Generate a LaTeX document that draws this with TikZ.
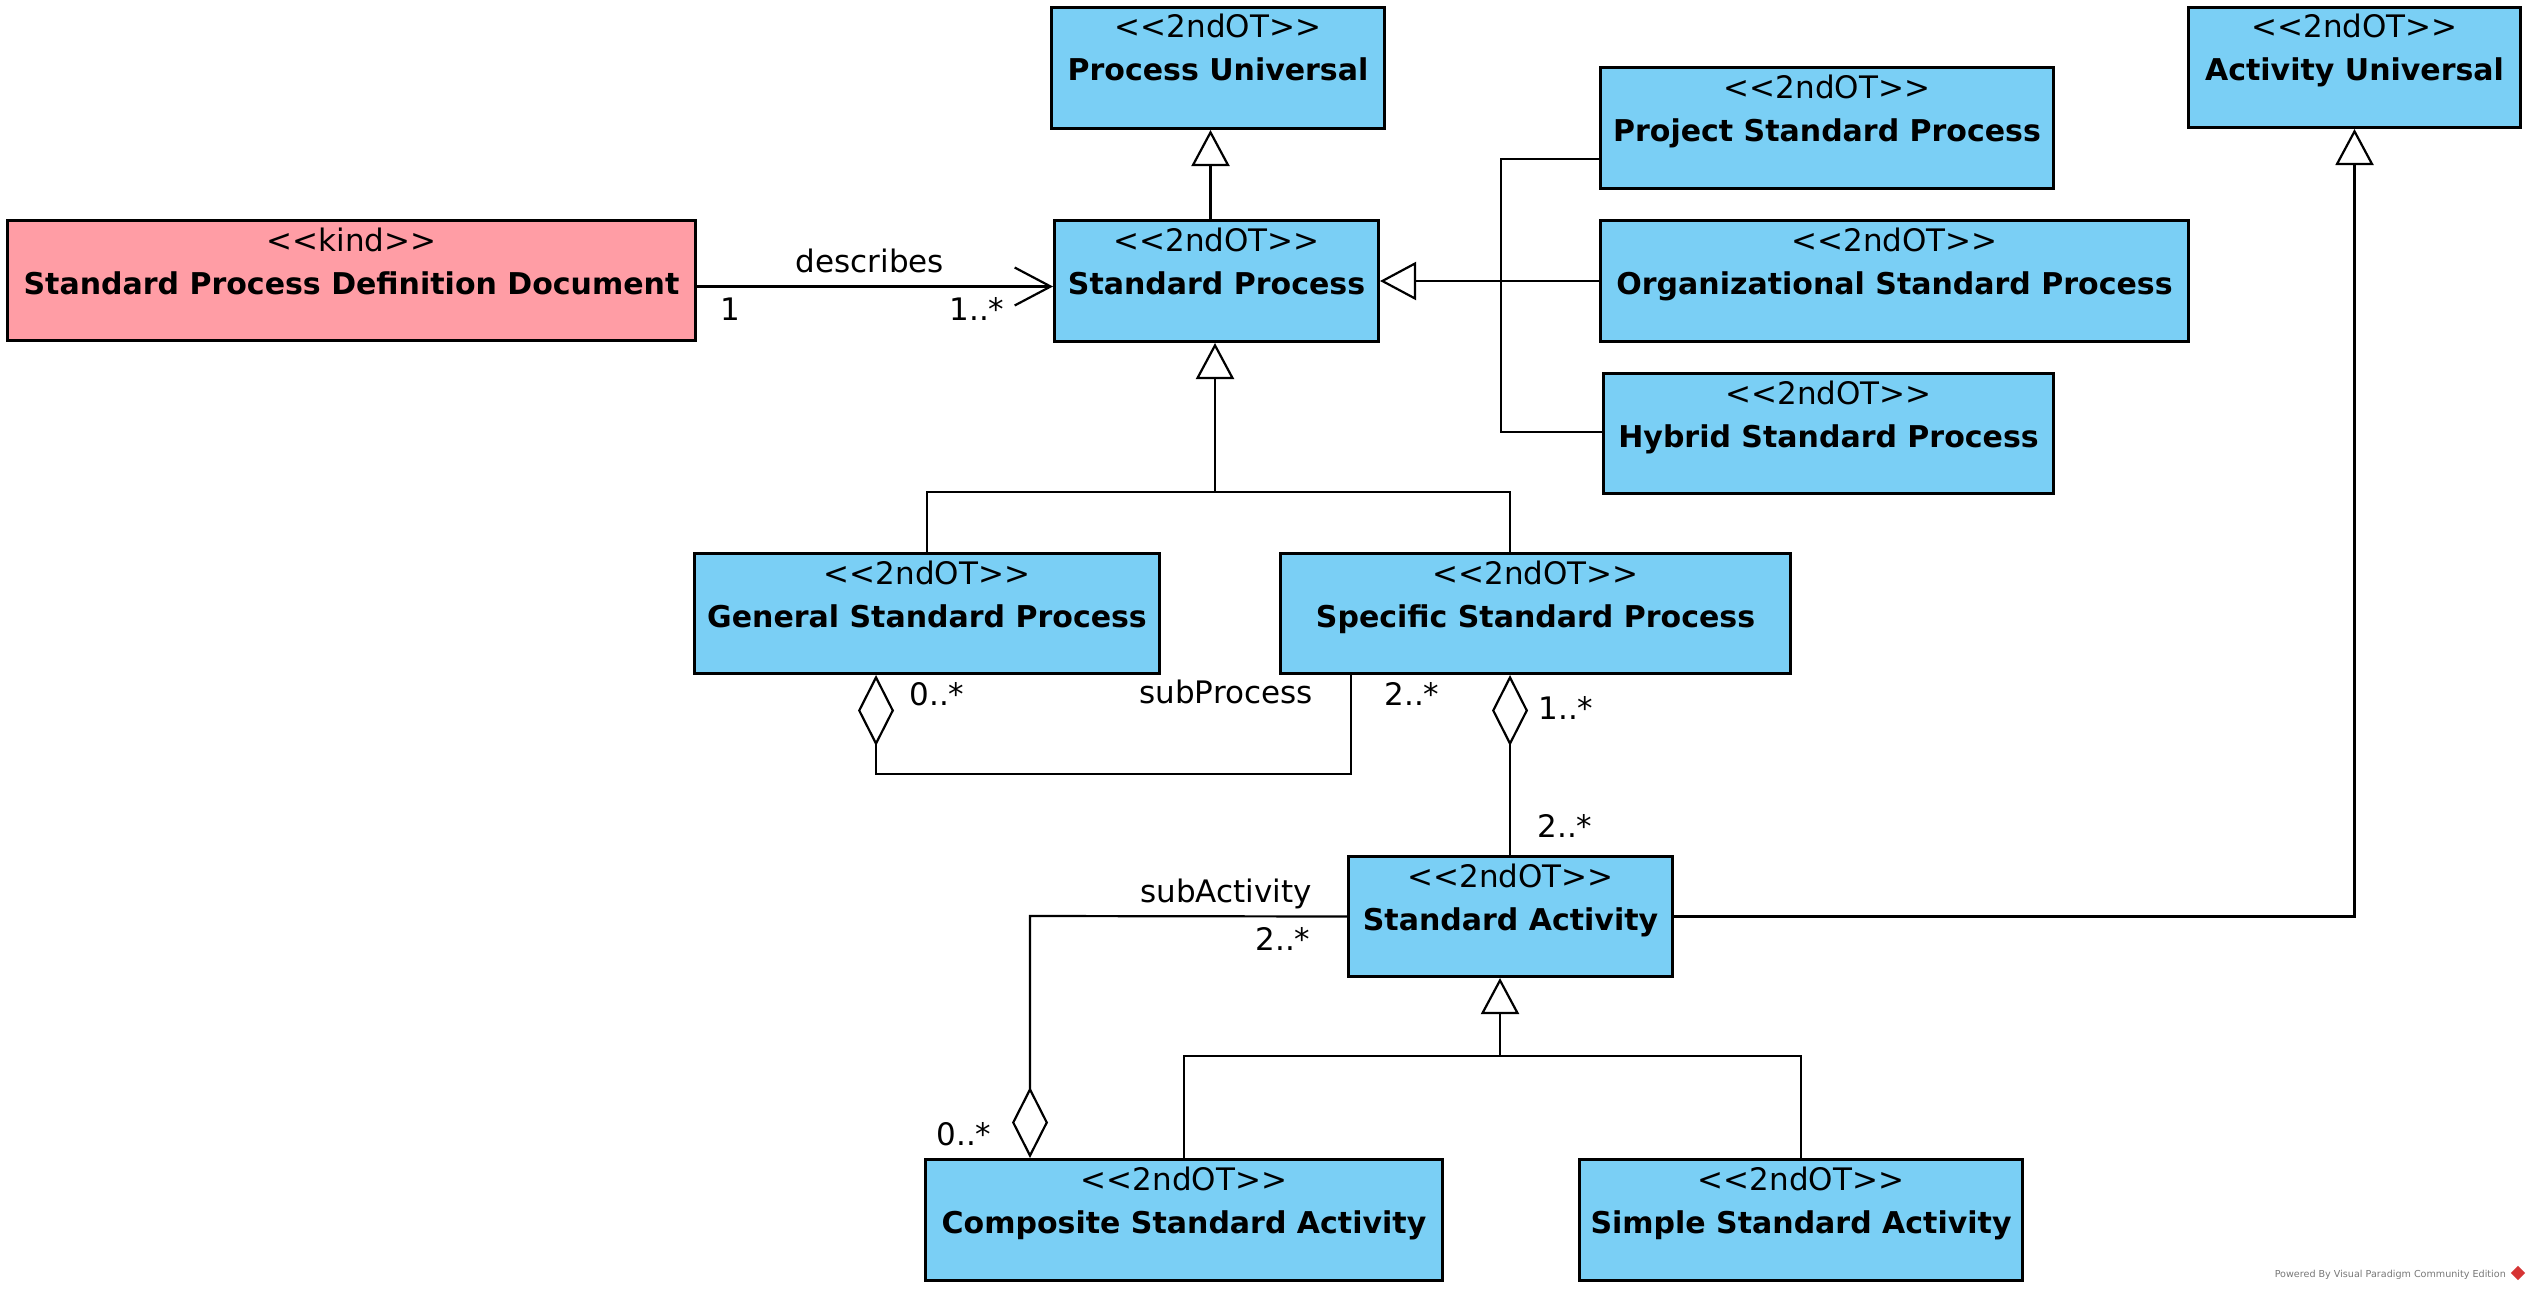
\documentclass[tikz,border=0pt]{standalone}
\usepackage{fontspec}
\setmainfont{DejaVu Sans}
\usetikzlibrary{arrows.meta,calc}
\definecolor{clsblue}{RGB}{122,207,245}
\definecolor{clspink}{RGB}{255,157,165}
\definecolor{wmgray}{RGB}{120,120,120}
\definecolor{wmred}{RGB}{214,52,52}
\tikzset{
  box/.style={draw=black, line width=3pt, fill=clsblue, inner sep=0pt, anchor=north west},
  kindbox/.style={box, fill=clspink},
  txt/.style={anchor=base, inner sep=0pt, font=\fontsize{31}{37}\selectfont},
  ttl/.style={anchor=base, inner sep=0pt, font=\fontsize{30}{36}\selectfont\bfseries},
  conn/.style={line width=2.2pt},
  gen/.style={conn, -{Triangle[length=36pt, width=38pt, fill=white]}},
  nav/.style={conn, -{Straight Barb[length=36pt, width=38pt]}},
  agg/.style={conn, {Diamond[length=71pt, width=36pt, fill=white]}-},
}
\newcommand\stt[1]{<{}<#1>{}>}
\newcommand\umlcls[8][box]{%
  \node[#1, minimum width=#5pt, minimum height=#6pt] (#2) at (#3,#4) {};
  \node[txt] (#2-s) at ($(#2.north)+(0,32)$) {\stt{#7}};
  \node[ttl] (#2-t) at ($(#2.north)+(0,75)$) {#8};
}
\begin{document}
\begin{tikzpicture}[x=1pt,y=-1pt]
\fill[white] (0,0) rectangle (2529,1290);
\useasboundingbox (0,0) rectangle (2529,1290);

\umlcls{pu}{1050}{6}{333}{121}{2ndOT}{Process Universal}
\umlcls{sp}{1053}{219}{324}{121}{2ndOT}{Standard Process}
\umlcls{proj}{1599}{66}{453}{121}{2ndOT}{Project Standard Process}
\umlcls{org}{1599}{219}{588}{121}{2ndOT}{Organizational Standard Process}
\umlcls{hyb}{1602}{372}{450}{120}{2ndOT}{Hybrid Standard Process}
\umlcls{au}{2187}{6}{332}{120}{2ndOT}{Activity Universal}
\umlcls[kindbox]{spdd}{6}{219}{688}{120}{kind}{Standard Process Definition Document}
\umlcls{gen}{693}{552}{465}{120}{2ndOT}{General Standard Process}
\umlcls{spec}{1279}{552}{510}{120}{2ndOT}{Specific Standard Process}
\umlcls{sa}{1347}{855}{324}{120}{2ndOT}{Standard Activity}
\umlcls{comp}{924}{1158}{517}{121}{2ndOT}{Composite Standard Activity}
\umlcls{simp}{1578}{1158}{443}{121}{2ndOT}{Simple Standard Activity}

% describes
\draw[nav] ([yshift=-6pt]spdd.east) -- ([yshift=-6pt]spdd.east -| sp.west);
\node[txt] (l-desc) at (870,272) {describes};
\node[txt] (l-one) at (730,320) {1};
\node[txt] (l-onem) at (977,320) {1..*};

% Standard Process -> Process Universal
\draw[gen] ([xshift=-6pt]sp.north) -- ([xshift=-6pt]sp.north |- pu.south);

% project/org/hybrid -> Standard Process
\coordinate (t1) at (1501,159);
\coordinate (t2) at (1501,432);
\draw[conn] (proj.west |- t1) -- (t1) -- (t2) -- (hyb.west |- t2);
\draw[gen] (org.west) -- (sp.east);

% general/specific -> Standard Process
\coordinate (g1) at (1215,492);
\coordinate (g2) at (1510,492);
\draw[gen] (g1) -- (g1 |- sp.south);
\draw[conn] (gen.north) |- (g2) -- (g2 |- spec.north);

% subProcess
\coordinate (p1) at (876,774);
\coordinate (p2) at (1351,774);
\draw[agg] (p1 |- gen.south) -- (p1) -- (p2) -- (p2 |- spec.south);
\node[txt] (l-p0) at (937,705) {0..*};
\node[txt] (l-sub) at (1226,703) {subProcess};
\node[txt] (l-p2) at (1412,705) {2..*};

% specific -- standard activity
\coordinate (s1) at (1510,760);
\draw[agg] (s1 |- spec.south) -- (s1 |- sa.north);
\node[txt] (l-s1) at (1566,719) {1..*};
\node[txt] (l-s2) at (1565,837) {2..*};

% standard activity -> activity universal
\draw[gen] (sa.east) -| (au.south);

% subActivity
\coordinate (c1) at (1030,916);
\draw[agg] (c1 |- comp.north) -- (c1) -- (sa.west);
\node[txt] (l-suba) at (1226,902) {subActivity};
\node[txt] (l-a2) at (1283,950) {2..*};
\node[txt] (l-a0) at (964,1145) {0..*};

% composite/simple -> standard activity
\coordinate (h1) at (1500,1056);
\draw[gen] (h1) -- (h1 |- sa.south);
\draw[conn] (comp.north) |- (h1) -| (simp.north);

% watermark
\node[anchor=base east, inner sep=0pt, font=\fontsize{9.6}{11}\selectfont, text=wmgray] (wm) at (2506,1277) {Powered By Visual Paradigm Community Edition};
\node[fill=wmred, minimum size=10pt, inner sep=0pt, rotate=45] (logo) at (2518,1273) {};
\end{tikzpicture}
\end{document}
